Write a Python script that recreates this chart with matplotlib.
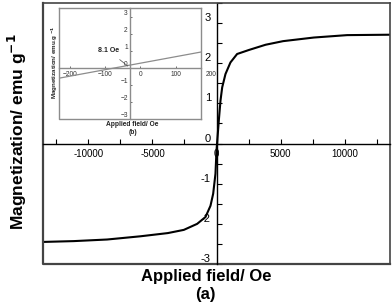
import numpy as np
import matplotlib
matplotlib.use("Agg")
import matplotlib.pyplot as plt
from matplotlib.ticker import MultipleLocator, FuncFormatter

plt.rcParams['font.family'] = ['Liberation Sans', 'DejaVu Sans']

# === main loop (a): field in Oe, magnetization in emu/g
field_neg = [-13500, -11150, -8540, -5940, -3800, -2550, -1510, -860, -470, -260, -80, 0]
mag_neg = [-2.45, -2.43, -2.39, -2.31, -2.23, -2.15, -2.0, -1.83, -1.55, -1.25, -0.75, -0.17]
field_pos = [50, 180, 312, 445, 700, 1090, 1610, 2530, 3830, 5200, 7600, 10200, 13500]
mag_pos = [0.03, 0.57, 1.07, 1.4, 1.73, 2.02, 2.23, 2.33, 2.46, 2.55, 2.64, 2.70, 2.71]

# === inset (b): low field region
field_low = [-231, 174]
mag_low = [-0.61, 0.93]

x_ticks = [-10000, -5000, 0, 5000, 10000]
y_ticks = [-3, -2, -1, 0, 1, 2, 3]
x_ticks_in = [-200, -100, 0, 100]
y_ticks_in = [-3, -2, -1, 0, 1, 2, 3]

fig = plt.figure(figsize=(3.92, 3.07), dpi=100)

# ===================================================================
# ============================ Main axes ============================
# ===================================================================
ax = fig.add_axes([43/392, 1-264/307, 347/392, 261/307])
ax.plot(field_neg + field_pos, mag_neg + mag_pos, color='black', lw=1.5)
ax.set_xlim(-13550, 13550)
ax.set_ylim(-3, 3.5)

ax.spines['left'].set_position(('data', 0))
ax.spines['bottom'].set_position(('data', 0))
for s in ['left', 'bottom']:
    ax.spines[s].set_color('black')
    ax.spines[s].set_linewidth(1.0)
for s in ['top', 'right']:
    ax.spines[s].set_color('#444444')
    ax.spines[s].set_linewidth(1.2)
# outer frame on left/bottom
ax.plot([0, 0, 1], [1, 0, 0], transform=ax.transAxes, color='#444444',
        lw=1.6, clip_on=False)

ax.xaxis.set_major_locator(MultipleLocator(2500))
ax.yaxis.set_major_locator(MultipleLocator(0.5))
ax.xaxis.set_major_formatter(FuncFormatter(
    lambda v, p: f"{int(round(v))}" if round(v) in x_ticks else ""))
ax.yaxis.set_major_formatter(FuncFormatter(
    lambda v, p: f"{int(round(v))}" if abs(v - round(v)) < 1e-6 and round(v) in y_ticks else ""))
ax.tick_params(axis='x', direction='in', length=3.5, width=0.8, labelsize=7, pad=4)
ax.tick_params(axis='y', direction='in', length=3.5, width=0.8, labelsize=8, pad=4)
for lbl in ax.get_yticklabels():
    lbl.set_va('bottom')

fig.text(17/392, 1-132/307, 'Magnetization/ emu g$^{\\mathbf{-1}}$', rotation=90,
         ha='center', va='center', fontsize=12.5, fontweight='bold')
fig.text(206/392, 1-277/307, 'Applied field/ Oe', ha='center', va='center',
         fontsize=12, fontweight='bold')
fig.text(205/392, 1-295/307, '(a)', ha='center', va='center',
         fontsize=12, fontweight='bold')

# ===================================================================
# ============================ Inset (b) ============================
# ===================================================================
gray = '#8c8c8c'
ax_in = fig.add_axes([59/392, 1-119/307, 142/392, 111/307])
ax_in.plot(field_low, mag_low, color=gray, lw=0.9)
ax_in.set_xlim(-231, 172)
ax_in.set_ylim(-3, 3.5)
ax_in.spines['left'].set_position(('data', -30))
ax_in.spines['bottom'].set_position(('data', 0))
for s in ax_in.spines.values():
    s.set_color(gray)
    s.set_linewidth(1.0)
ax_in.plot([0, 0, 1], [1, 0, 0], transform=ax_in.transAxes, color=gray,
           lw=1.0, clip_on=False)
ax_in.set_xticks(x_ticks_in)
ax_in.set_yticks(y_ticks_in)
ax_in.tick_params(axis='both', direction='in', length=1.5, width=0.5,
                  labelsize=4.8, pad=1.5, colors='#333333')
ax_in.tick_params(axis='x', pad=2.5)
for lbl in ax_in.get_yticklabels():
    lbl.set_va('bottom')
ax_in.annotate('200', xy=(200, 0), xytext=(0, -2.5), textcoords='offset points',
               ha='center', va='top', fontsize=4.8, color='#333333',
               annotation_clip=False)
ax_in.annotate('8.1 Oe', xy=(-36, 0.1), xytext=(-90, 1.0), fontsize=5,
               fontweight='bold', ha='center', va='center', color='#222222',
               arrowprops=dict(arrowstyle='-', color='#444444', lw=0.5,
                               shrinkA=3, shrinkB=0))

fig.text(55/392, 1-62/307, 'Magnetization/ emu.g $^{\\mathbf{-1}}$', rotation=90,
         ha='center', va='center', fontsize=4.5, fontweight='bold', color='#222222')
fig.text(132/392, 1-125/307, 'Applied field/ Oe', ha='center', va='center',
         fontsize=4.8, fontweight='bold', color='#222222')
fig.text(133/392, 1-133/307, '(b)', ha='center', va='center',
         fontsize=4.8, fontweight='bold', color='#222222')

fig.savefig('out.png', dpi=100)
